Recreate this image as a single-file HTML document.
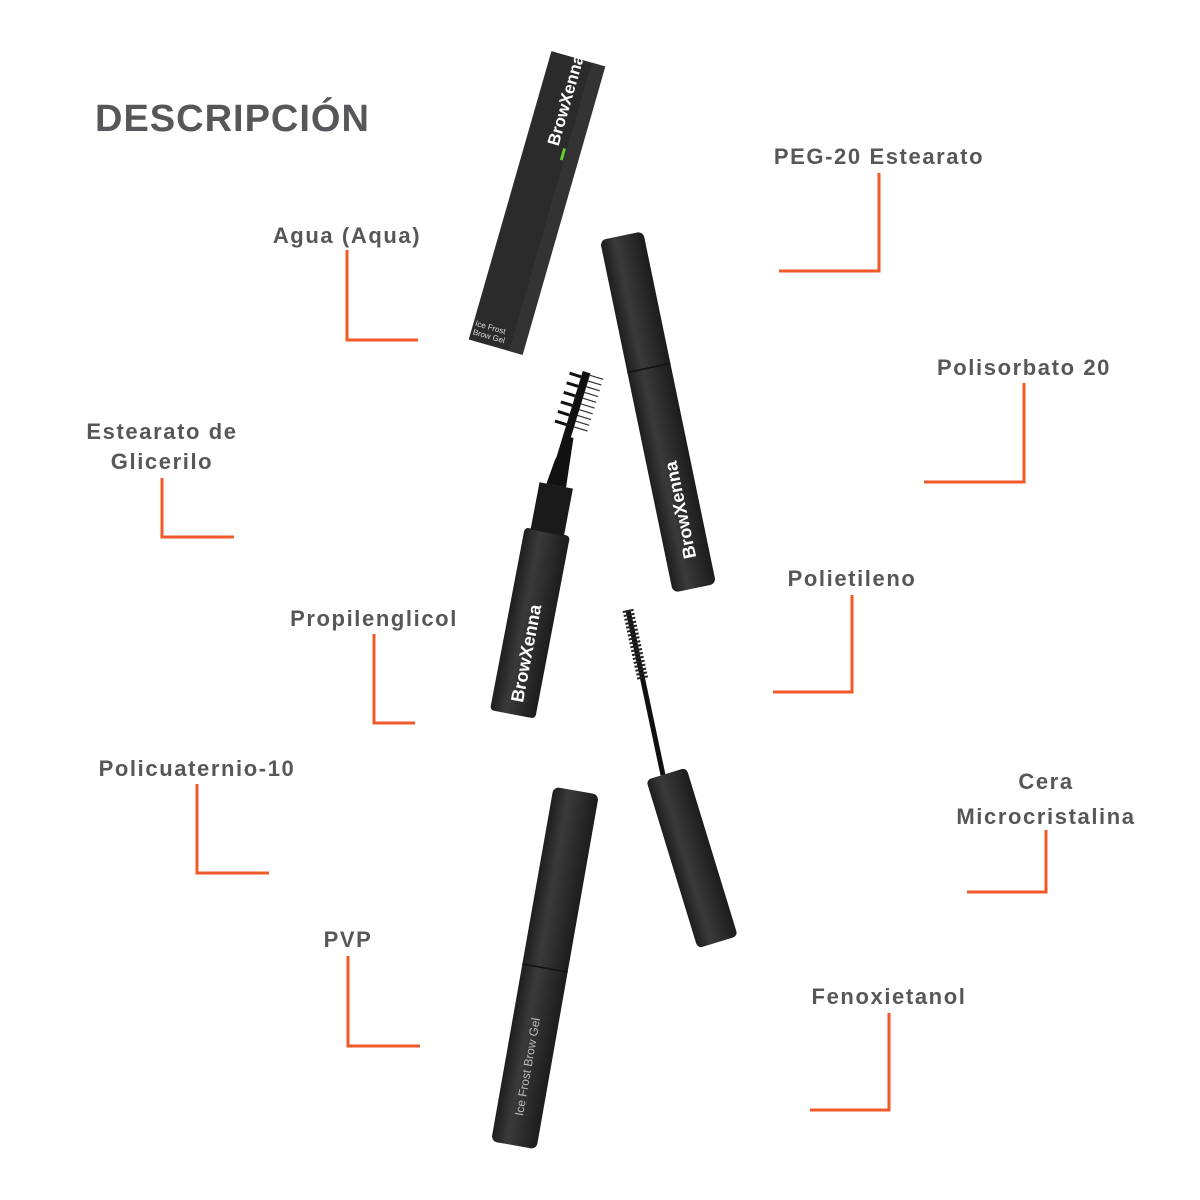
<!DOCTYPE html>
<html><head><meta charset="utf-8"><style>
body{margin:0;width:1200px;height:1200px;background:#fff;overflow:hidden;position:relative;font-family:"Liberation Sans",sans-serif}
.t{position:absolute;color:#57565b;font-weight:bold;font-size:22px;letter-spacing:1.6px;text-align:center;line-height:30px;white-space:nowrap;transform:translateX(-50%)}
svg{position:absolute;left:0;top:0}
</style></head><body>
<svg width="1200" height="1200" viewBox="0 0 1200 1200">
<defs>
<linearGradient id="g" x1="0" x2="1" y1="0" y2="0"><stop offset="0" stop-color="#1e1e1e"/><stop offset="0.35" stop-color="#3a3a3a"/><stop offset="1" stop-color="#1c1c1c"/></linearGradient>
</defs>
<g transform="translate(537,203) rotate(16)">
<rect x="-28" y="-150" width="56" height="300" fill="#2b2b2b"/>
<rect x="14" y="-150" width="14" height="300" fill="#333"/>
<text transform="rotate(-90)" x="60" y="5" fill="#fff" font-size="17" font-weight="bold" font-family="Liberation Sans">BrowXenna</text>
<rect x="10" y="-60" width="3" height="12" fill="#6c3"/>
<text x="-26" y="135" fill="#ddd" font-size="8">Ice Frost</text>
<text x="-26" y="144" fill="#ddd" font-size="8">Brow Gel</text>
</g>
<g transform="translate(658,412) rotate(-11.7)">
<rect x="-22" y="-180" width="44" height="360" rx="6" fill="url(#g)"/>
<line x1="-22" y1="-45" x2="22" y2="-45" stroke="#111" stroke-width="1.5"/>
<text transform="rotate(-90)" x="-150" y="8" fill="#fff" font-size="18" font-weight="bold">BrowXenna</text>
</g>
<g transform="translate(530,623) rotate(10.8)">
<rect x="-23" y="-93" width="46" height="186" rx="4" fill="url(#g)"/>
<rect x="-17" y="-140" width="34" height="48" fill="#1a1a1a"/>
<path d="M-10,-140 L-6,-165 L2,-190 L8,-190 L10,-140 Z" fill="#111"/>
<text transform="rotate(-90)" x="-80" y="8" fill="#fff" font-size="18" font-weight="bold">BrowXenna</text>
</g>
<g transform="translate(572,420) rotate(17)">
<rect x="-4" y="-50" width="8" height="100" fill="#111"/>
<g stroke="#111" stroke-width="3">
<line x1="-16" y1="-44" x2="-4" y2="-44"/><line x1="-16" y1="-34" x2="-4" y2="-34"/><line x1="-16" y1="-24" x2="-4" y2="-24"/><line x1="-16" y1="-14" x2="-4" y2="-14"/><line x1="-16" y1="-4" x2="-4" y2="-4"/><line x1="-16" y1="6" x2="-4" y2="6"/>
</g>
<g stroke="#333" stroke-width="1.2">
<line x1="4" y1="-48" x2="18" y2="-48"/><line x1="4" y1="-42" x2="18" y2="-42"/><line x1="4" y1="-36" x2="18" y2="-36"/><line x1="4" y1="-30" x2="18" y2="-30"/><line x1="4" y1="-24" x2="18" y2="-24"/><line x1="4" y1="-18" x2="18" y2="-18"/><line x1="4" y1="-12" x2="18" y2="-12"/><line x1="4" y1="-6" x2="18" y2="-6"/><line x1="4" y1="0" x2="18" y2="0"/><line x1="4" y1="6" x2="18" y2="6"/>
</g>
</g>
<line x1="628" y1="610" x2="663" y2="775" stroke="#111" stroke-width="5"/>
<line x1="628" y1="610" x2="643" y2="680" stroke="#222" stroke-width="11" stroke-dasharray="2,2"/>
<g transform="translate(692,858) rotate(-17)">
<rect x="-21" y="-88" width="42" height="176" rx="5" fill="url(#g)"/>
</g>
<g transform="translate(545,968) rotate(10)">
<rect x="-23" y="-180" width="46" height="360" rx="6" fill="url(#g)"/>
<line x1="-23" y1="0" x2="23" y2="0" stroke="#111" stroke-width="1.5"/>
<text transform="rotate(-90)" x="-150" y="4" fill="#bbb" font-size="12">Ice Frost Brow Gel</text>
</g>
<g fill="none" stroke="#f05a28" stroke-width="3">
<polyline points="347,250 347,340 418,340"/>
<polyline points="879,173 879,271 779,271"/>
<polyline points="1024,383 1024,482 924,482"/>
<polyline points="162,478 162,537 234,537"/>
<polyline points="852,595 852,692 773,692"/>
<polyline points="374,634 374,723 415,723"/>
<polyline points="197,784 197,873 269,873"/>
<polyline points="1046,830 1046,892 967,892"/>
<polyline points="348,956 348,1046 420,1046"/>
<polyline points="889,1013 889,1110 810,1110"/>
</g>
</svg>
<div style="position:absolute;left:95px;top:98px;font-size:38px;font-weight:bold;color:#57565b;letter-spacing:1px">DESCRIPCIÓN</div>
<div class="t" style="left:347px;top:221px">Agua (Aqua)</div>
<div class="t" style="left:879px;top:142px">PEG-20 Estearato</div>
<div class="t" style="left:1024px;top:353px">Polisorbato 20</div>
<div class="t" style="left:162px;top:417px">Estearato de<br>Glicerilo</div>
<div class="t" style="left:852px;top:564px">Polietileno</div>
<div class="t" style="left:374px;top:604px">Propilenglicol</div>
<div class="t" style="left:197px;top:754px">Policuaternio-10</div>
<div class="t" style="left:1046px;top:764px;line-height:35px">Cera<br>Microcristalina</div>
<div class="t" style="left:348px;top:925px">PVP</div>
<div class="t" style="left:889px;top:982px">Fenoxietanol</div>
</body></html>
